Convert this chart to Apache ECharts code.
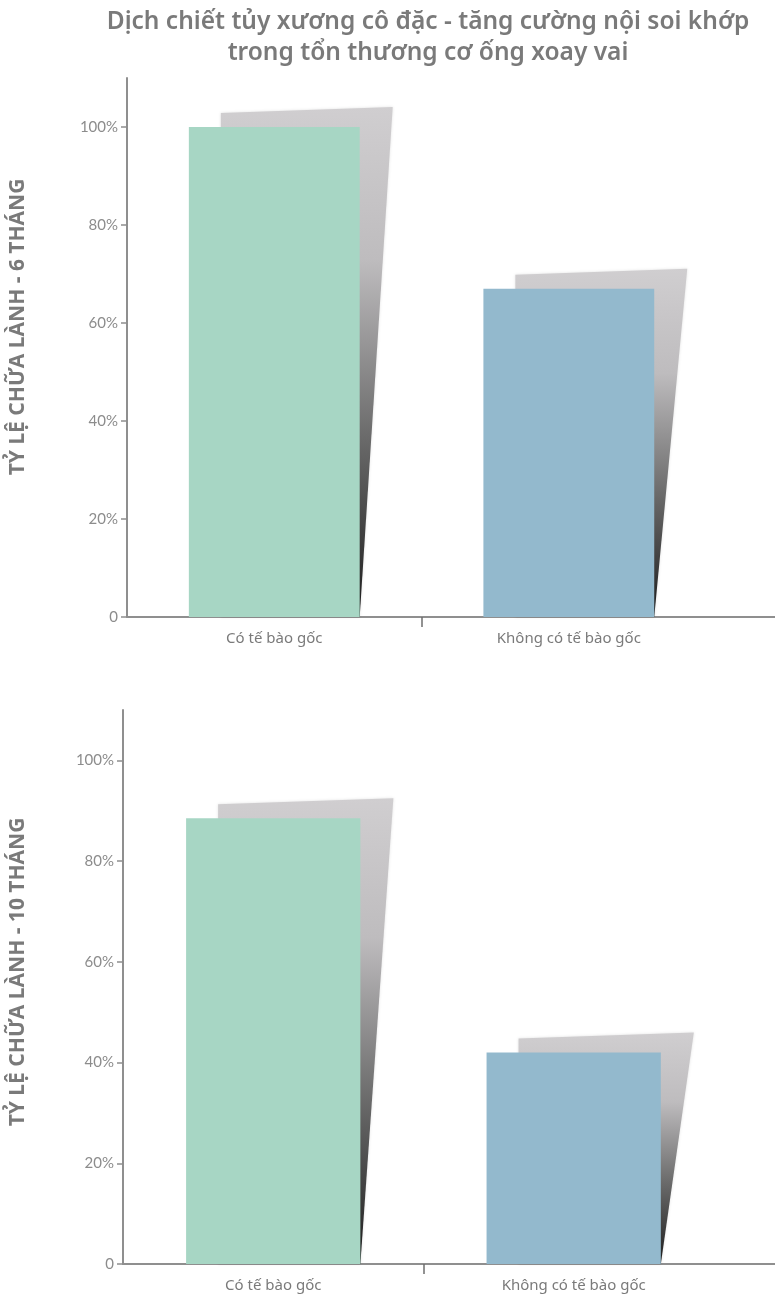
<!DOCTYPE html>
<html><head><meta charset="utf-8">
<script src="https://cdn.jsdelivr.net/npm/echarts@6/dist/echarts.min.js"></script>
<style>html,body{margin:0;padding:0;background:#fff}#c{width:775px;height:1308px}</style>
</head><body><div id="c"></div>
<script>
// ---- data ----
const titleLines = ['Dịch chiết tủy xương cô đặc - tăng cường nội soi khớp', 'trong tổn thương cơ ống xoay vai'];
const categories = ['Có tế bào gốc', 'Không có tế bào gốc'];
const values6 = [100, 67];
const values10 = [88.5, 42];
const axisNames = ['TỶ LỆ CHỮA LÀNH - 6 THÁNG', 'TỶ LỆ CHỮA LÀNH - 10 THÁNG'];
const yTicks = [0, 20, 40, 60, 80, 100];
const barColors = ['#a7d6c4', '#93b9cd'];

const chart = echarts.init(document.getElementById('c'), null, {renderer: 'canvas'});
const axisColor = '#8f8f8f';
const txtColor = '#7a7a7a';
const condFont = "'Noto Sans', 'Open Sans', sans-serif";

function xAxisFor(idx, max) {
  return {
    type: 'value', gridIndex: idx, min: 0, max: max,
    splitLine: {show: false},
    axisLine: {show: true, lineStyle: {color: axisColor, width: 2}},
    axisTick: {show: true, customValues: [1], length: 10, lineStyle: {color: '#6f6f6f', width: 1.5}},
    axisLabel: {
      customValues: categories.map((c, k) => k + 0.5),
      formatter: v => categories[Math.floor(v)],
      color: txtColor, fontSize: 15, margin: 14, fontFamily: condFont
    }
  };
}
function yAxisFor(idx) {
  return {
    type: 'value', gridIndex: idx, min: 0, max: 110, interval: 20,
    splitLine: {show: false},
    axisLine: {show: true, lineStyle: {color: axisColor, width: 2}},
    axisTick: {show: true, customValues: yTicks, length: 6, lineStyle: {color: axisColor, width: 1.5}},
    axisLabel: {
      customValues: yTicks,
      formatter: v => v === 0 ? '0' : v + '%',
      color: '#8c8c8c', fontSize: 15, margin: 9, fontFamily: "Lato, sans-serif"
    }
  };
}
function barSeries(idx, vals) {
  return {
    type: 'bar', xAxisIndex: idx, yAxisIndex: idx, barWidth: '58%', z: 3,
    data: vals.map((v, k) => ({value: [k + 0.5, v], itemStyle: {color: barColors[k]}}))
  };
}
function shadowSeries(idx, vals) {
  return {
    type: 'custom', xAxisIndex: idx, yAxisIndex: idx, z: 1, silent: true,
    data: vals.map((v, k) => [k + 0.5, v]),
    renderItem: function (params, api) {
      const x = api.value(0), v = api.value(1);
      const top = api.coord([x, v]);
      const base = api.coord([x, 0]);
      const bw = api.size([1, 0])[0] * 0.58;
      const l = top[0] - bw / 2, r = top[0] + bw / 2;
      return {
        type: 'polygon',
        shape: {points: [[l + 32, top[1] - 14], [r + 33, top[1] - 20], [r, base[1]], [l + 32, base[1]]]},
        style: {
          shadowBlur: 3, shadowColor: 'rgba(0,0,0,0.12)',
          fill: new echarts.graphic.LinearGradient(0, 0, 0, 1, [
            {offset: 0, color: '#d0ced0'},
            {offset: 0.3, color: '#bebcbe'},
            {offset: 0.65, color: '#6a6a6a'},
            {offset: 1, color: '#1c1c1c'}
          ])
        }
      };
    }
  };
}

chart.setOption({
  backgroundColor: '#ffffff',
  animation: false,
  title: {
    text: titleLines.join('\n'), left: 423, top: 2, textAlign: 'center',
    textStyle: {color: txtColor, fontSize: 24.5, fontWeight: 600, lineHeight: 31, fontFamily: condFont}
  },
  grid: [
    {left: 127, top: 78, width: 648, height: 539},
    {left: 123, top: 710, width: 652, height: 554}
  ],
  xAxis: [xAxisFor(0, 2.2), xAxisFor(1, 2.17)],
  yAxis: [yAxisFor(0), yAxisFor(1)],
  series: [shadowSeries(0, values6), barSeries(0, values6), shadowSeries(1, values10), barSeries(1, values10)],
  graphic: [
    {type: 'text', x: 18, y: 327, rotation: Math.PI / 2,
     style: {text: axisNames[0], fill: txtColor, font: "bold 21px 'Noto Sans', sans-serif", align: 'center', verticalAlign: 'middle'}},
    {type: 'text', x: 18, y: 972, rotation: Math.PI / 2,
     style: {text: axisNames[1], fill: txtColor, font: "bold 21px 'Noto Sans', sans-serif", align: 'center', verticalAlign: 'middle'}}
  ]
});
</script></body></html>
